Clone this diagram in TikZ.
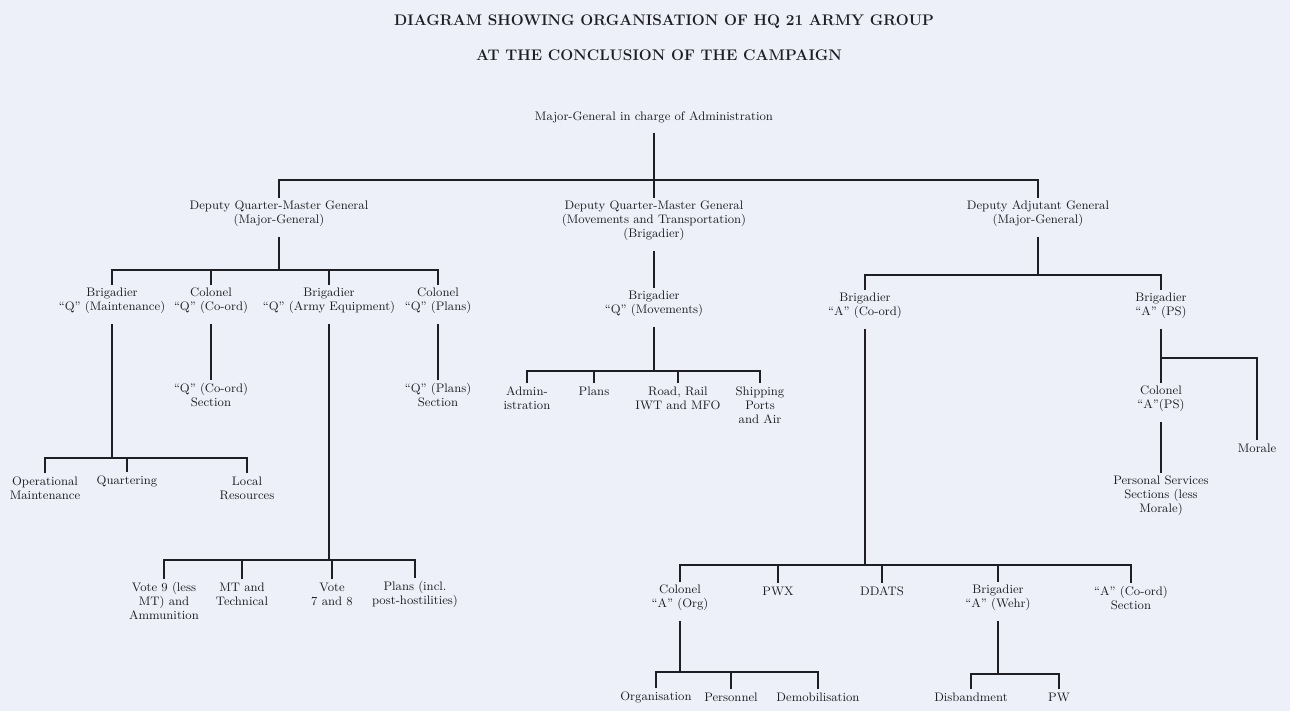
\documentclass[tikz,border=0pt]{standalone}
\usepackage{fontspec}

\definecolor{paper}{RGB}{237,240,248}
\definecolor{ink}{RGB}{30,30,36}

\tikzset{
  post/.style={align=center, inner sep=2pt, text=ink, font=\fontsize{9.25}{10.5}\selectfont},
  heading/.style={post, font=\fontsize{11.5}{13}\selectfont\bfseries},
  stemline/.style={shorten <=5pt},
}

\begin{document}
\begin{tikzpicture}[x=0.75pt,y=-0.75pt,line width=0.9pt,color=ink]

\def\drop#1#2{\draw (#1.north) -- (#1.north |- #2);}
\def\stem#1#2{\draw[stemline] (#1.south) -- (#1.south |- #2);}

\fill[paper] (0,0) rectangle (1290,711);
\useasboundingbox (0,0) rectangle (1290,711);

% Title
\node[heading] (title) at (664,22) {DIAGRAM SHOWING ORGANISATION OF HQ 21 ARMY GROUP};
\node[heading] (subtitle) at (659,55) {AT THE CONCLUSION OF THE CAMPAIGN};

% Head and deputies
\node[post] (mga) at (654,117) {Major-General in charge of Administration};
\node[post] (dqmg) at (279,214) {Deputy Quarter-Master General\\(Major-General)};
\node[post] (dqmt) at (654,221) {Deputy Quarter-Master General\\(Movements and Transportation)\\(Brigadier)};
\node[post] (dag) at (1038,214) {Deputy Adjutant General\\(Major-General)};

% Q branch
\node[post] (bqm) at (112,301) {Brigadier\\``Q'' (Maintenance)};
\node[post] (cqc) at (211,301) {Colonel\\``Q'' (Co-ord)};
\node[post] (bqe) at (329,301) {Brigadier\\``Q'' (Army Equipment)};
\node[post] (cqp) at (438,301) {Colonel\\``Q'' (Plans)};

\node[post] (qcs) at (211,395) {``Q'' (Co-ord)\\Section};
\node[post] (qps) at (438,395) {``Q'' (Plans)\\Section};

\node[post] (opm) at (45,488) {Operational\\Maintenance};
\node[post] (qua) at (127,481) {Quartering};
\node[post] (lres) at (247,488) {Local\\Resources};

\node[post] (vote9) at (164,601) {Vote 9 (less\\MT) and\\Ammunition};
\node[post] (mtt) at (242,594) {MT and\\Technical};
\node[post] (vote7) at (332,594) {Vote\\7 and 8};
\node[post] (plans) at (415,594) {Plans (incl.\\post-hostilities)};

% Movements branch
\node[post] (bqmv) at (654,304) {Brigadier\\``Q'' (Movements)};
\node[post] (adm) at (527,398) {Admin-\\istration};
\node[post] (mplans) at (594,391) {Plans};
\node[post] (road) at (678,398) {Road, Rail\\IWT and MFO};
\node[post] (ship) at (760,405) {Shipping\\Ports\\and Air};

% A branch
\node[post] (bac) at (865,306) {Brigadier\\``A'' (Co-ord)};
\node[post] (baps) at (1161,306) {Brigadier\\``A'' (PS)};
\node[post] (caps) at (1161,399) {Colonel\\``A''(PS)};
\node[post] (pss) at (1161,496) {Personal Services\\Sections (less\\Morale)};
\node[post] (morale) at (1257,448) {Morale};

\node[post] (cao) at (680,598) {Colonel\\``A'' (Org)};
\node[post] (pwx) at (778,591) {PWX};
\node[post] (ddats) at (882,591) {DDATS};
\node[post] (baw) at (998,598) {Brigadier\\``A'' (Wehr)};
\node[post] (acs) at (1131,598) {``A'' (Co-ord)\\Section};

\node[post] (org) at (656,697) {Organisation};
\node[post] (pers) at (731,697) {Personnel};
\node[post] (demob) at (818,697) {Demobilisation};
\node[post] (disb) at (971,697) {Disbandment};
\node[post] (pw) at (1059,697) {PW};

% Bar levels
\coordinate (barTop) at (0,180);
\coordinate (barQ) at (0,270);
\coordinate (barMaint) at (0,458);
\coordinate (barEquip) at (0,560);
\coordinate (barMove) at (0,371);
\coordinate (barA) at (0,275);
\coordinate (barPS) at (0,358);
\coordinate (barCoord) at (0,565);
\coordinate (barOrg) at (0,672);
\coordinate (barWehr) at (0,674);

% Major-General to deputies
\stem{mga}{barTop}
\draw (dqmg.north) |- (dag.north |- barTop) -- (dag.north);
\drop{dqmt}{barTop}

% DQMG
\stem{dqmg}{barQ}
\draw (bqm.north) |- (cqp.north |- barQ) -- (cqp.north);
\foreach \c in {cqc,bqe} {\drop{\c}{barQ}}
\draw[stemline] (cqc.south) -- (qcs.north);
\draw[stemline] (cqp.south) -- (qps.north);

\stem{bqm}{barMaint}
\draw (opm.north) |- (lres.north |- barMaint) -- (lres.north);
\drop{qua}{barMaint}

\stem{bqe}{barEquip}
\draw (vote9.north) |- (plans.north |- barEquip) -- (plans.north);
\foreach \c in {mtt,vote7} {\drop{\c}{barEquip}}

% DQMG (Movements and Transportation)
\draw[stemline] (dqmt.south) -- (bqmv.north);
\stem{bqmv}{barMove}
\draw (adm.north) |- (ship.north |- barMove) -- (ship.north);
\foreach \c in {mplans,road} {\drop{\c}{barMove}}

% DAG
\stem{dag}{barA}
\draw (bac.north) |- (baps.north |- barA) -- (baps.north);

\draw[stemline] (baps.south) -- (caps.north);
\draw (baps.south |- barPS) -| (morale.north);
\draw[stemline] (caps.south) -- (pss.north);

\stem{bac}{barCoord}
\draw (cao.north) |- (acs.north |- barCoord) -- (acs.north);
\foreach \c in {pwx,ddats,baw} {\drop{\c}{barCoord}}

\stem{cao}{barOrg}
\draw (org.north) |- (demob.north |- barOrg) -- (demob.north);
\drop{pers}{barOrg}

\stem{baw}{barWehr}
\draw (disb.north) |- (pw.north |- barWehr) -- (pw.north);

\end{tikzpicture}
\end{document}
